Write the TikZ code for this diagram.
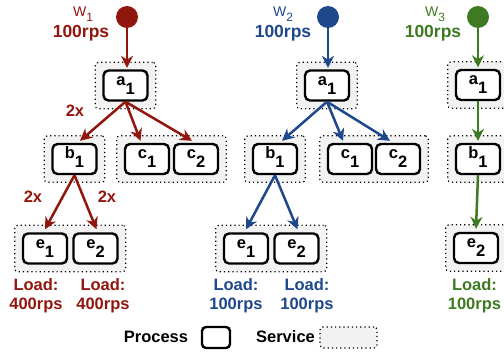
\documentclass[tikz,border=0pt]{standalone}
\usepackage{fontspec}
\setmainfont{Liberation Sans}
\usetikzlibrary{arrows.meta,fit,calc,backgrounds}
\definecolor{cred}{RGB}{145,22,14}
\definecolor{cblue}{RGB}{31,72,140}
\definecolor{cgreen}{RGB}{62,122,34}
\definecolor{svcfill}{RGB}{242,242,242}
\newcommand{\pl}[2]{\textbf{#1}\raisebox{-9pt}{\textbf{#2}}}
\newcommand{\wl}[1]{W\raisebox{-5pt}{\fontsize{12}{13}\selectfont #1}}
\begin{document}
\begin{tikzpicture}[x=1pt,y=-1pt,
  proc/.style={draw=black, line width=2.4pt, rounded corners=5pt, minimum width=44pt, minimum height=30pt, inner sep=0pt, text height=9pt, text depth=10pt, font=\fontsize{16.5}{18}\selectfont, fill=white},
  svc/.style={draw=black, line width=1.2pt, dash pattern=on 1.2pt off 3pt, fill=svcfill, rounded corners=3pt, inner sep=7pt},
  wk/.style={circle, minimum size=22pt, inner sep=0pt},
  conn/.style={line width=2.5pt, -{Stealth[length=12pt,width=12pt]}},
  lbl/.style={font=\bfseries\fontsize{16.5}{19.5}\selectfont, align=center, inner sep=0pt},
  rps/.style={font=\bfseries\fontsize{17.5}{20}\selectfont, inner sep=0pt},
  wtxt/.style={font=\fontsize{14}{16}\selectfont, inner sep=0pt}
]
\useasboundingbox (0,0) rectangle (504,356);

% ---------- cluster 1 (red)
\node[wk, fill=cred] (w1) at (127,17) {};
\node[wtxt, text=cred] (w1l) at (83,14.5) {\wl{1}};
\node[rps, text=cred] (w1r) at (81,33.5) {100rps};
\node[proc] (a1) at (125.5,85.5) {\pl{a}{1}};
\node[proc] (b1) at (74.5,159) {\pl{b}{1}};
\node[proc] (c1) at (147,159) {\pl{c}{1}};
\node[proc] (c2) at (196,159) {\pl{c}{2}};
\node[proc] (e1) at (45,248.5) {\pl{e}{1}};
\node[proc] (e2) at (95.5,248.5) {\pl{e}{2}};
\begin{scope}[on background layer]
\node[svc, fit=(a1)] (sa1) {};
\node[svc, fit=(b1)] (sb1) {};
\node[svc, fit=(c1)(c2)] (sc1) {};
\node[svc, fit=(e1)(e2)] (se1) {};
\end{scope}
\draw[conn, cred] (w1) -- ($(w1 |- a1.north)+(0,-1.5)$);
\draw[conn, cred] (a1.south) -- ($(b1.north)+(5.5,-2)$);
\draw[conn, cred] (a1.south) -- ($(c1.north)+(-6.5,-2)$);
\draw[conn, cred] (a1.south) -- ($(c2.north)+(-4,-2)$);
\draw[conn, cred] (b1.south) -- ($(e1.north)+(0,-3)$);
\draw[conn, cred] (b1.south) -- ($(e2.north)+(1,-3)$);
\node[lbl, text=cred] (x1) at (75,111) {2x};
\node[lbl, text=cred] (x2) at (33,197) {2x};
\node[lbl, text=cred] (x3) at (107,197) {2x};
\node[lbl, text=cred] (l1) at (36,295.5) {Load:\\400rps};
\node[lbl, text=cred] (l2) at (103,295.5) {Load:\\400rps};

% ---------- cluster 2 (blue)
\node[wk, fill=cblue] (w2) at (328,17) {};
\node[wtxt, text=cblue] (w2l) at (283,14.5) {\wl{2}};
\node[rps, text=cblue] (w2r) at (283,33.5) {100rps};
\node[proc] (a2) at (327,85.5) {\pl{a}{1}};
\node[proc] (b2) at (275,159) {\pl{b}{1}};
\node[proc] (c21) at (350,159) {\pl{c}{1}};
\node[proc] (c22) at (398,159) {\pl{c}{2}};
\node[proc] (e21) at (246,248.5) {\pl{e}{1}};
\node[proc] (e22) at (296.5,248.5) {\pl{e}{2}};
\begin{scope}[on background layer]
\node[svc, fit=(a2)] (sa2) {};
\node[svc, fit=(b2)] (sb2) {};
\node[svc, fit=(c21)(c22)] (sc2) {};
\node[svc, fit=(e21)(e22)] (se2) {};
\end{scope}
\draw[conn, cblue] (w2) -- ($(w2 |- a2.north)+(0,-1.5)$);
\draw[conn, cblue] (a2.south) -- ($(b2.north)+(7,-2)$);
\draw[conn, cblue] (a2.south) -- ($(c21.north)+(-7,-2)$);
\draw[conn, cblue] (a2.south) -- ($(c22.north)+(-8,-2)$);
\draw[conn, cblue] (b2.south) -- ($(e21.north)+(0,-3)$);
\draw[conn, cblue] (b2.south) -- ($(e22.north)+(1,-3)$);
\node[lbl, text=cblue] (l3) at (236,295.5) {Load:\\100rps};
\node[lbl, text=cblue] (l4) at (307,295.5) {Load:\\100rps};

% ---------- cluster 3 (green)
\node[wk, fill=cgreen] (w3) at (478,17) {};
\node[wtxt, text=cgreen] (w3l) at (435,14.5) {\wl{3}};
\node[rps, text=cgreen] (w3r) at (433,33.5) {100rps};
\node[proc] (a3) at (478,85) {\pl{a}{1}};
\node[proc] (b3) at (478,159) {\pl{b}{1}};
\node[proc] (e3) at (476,248) {\pl{e}{2}};
\begin{scope}[on background layer]
\node[svc, fit=(a3)] (sa3) {};
\node[svc, fit=(b3)] (sb3) {};
\node[svc, fit=(e3)] (se3) {};
\end{scope}
\draw[conn, cgreen] (w3) -- ($(w3 |- a3.north)+(0,-1.5)$);
\draw[conn, cgreen] (a3.south) -- ($(b3.north)+(0,-2)$);
\draw[conn, cgreen] (b3.south) -- ($(e3.north)+(0,-3)$);
\node[lbl, text=cgreen] (l5) at (474.5,295.5) {Load:\\100rps};

% ---------- legend
\node[lbl] (lp) at (156,337) {Process};
\node[proc, minimum width=28pt, minimum height=21pt, rounded corners=4pt] (lpb) at (216,337.5) {};
\node[lbl] (ls) at (285.5,337) {Service};
\node[svc, minimum width=57pt, minimum height=21pt, inner sep=0pt] (lsb) at (348.5,337.5) {};
\end{tikzpicture}
\end{document}
